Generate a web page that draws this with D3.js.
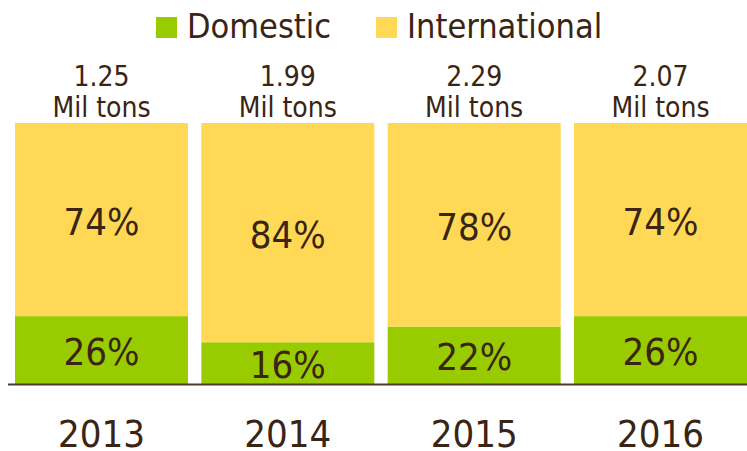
<!DOCTYPE html>
<html>
<head>
<meta charset="utf-8">
<script src="https://cdn.jsdelivr.net/npm/d3@7"></script>
<style>
  html, body { margin: 0; padding: 0; background: #fff; }
  svg text { font-family: "DejaVu Sans Condensed", "DejaVu Sans", sans-serif; font-stretch: condensed; fill: #3a2414; }
</style>
</head>
<body>
<svg id="chart"></svg>
<script>
(function() {

const years = ["2013", "2014", "2015", "2016"];
const totals = ["1.25", "1.99", "2.29", "2.07"];
const domestic = [26, 16, 22, 26];
const international = [74, 84, 78, 74];
const seriesNames = ["Domestic", "International"];
const colors = ["#99cc00", "#ffd955"];

const W = 747, H = 451;
const svg = d3.select("#chart").attr("width", W).attr("height", H);

const x = d3.scaleBand()
    .domain(years)
    .range([15, 747])
    .paddingInner(0.0716)
    .paddingOuter(0);

const y = d3.scaleLinear()
    .domain([0, 100])
    .range([384, 123]);

const rows = years.map((yr, i) => ({ year: yr, total: totals[i], Domestic: domestic[i], International: international[i] }));
const stacked = d3.stack().keys(seriesNames)(rows);

// bars
const layers = svg.append("g").selectAll("g")
    .data(stacked)
    .join("g")
    .attr("fill", (d, i) => colors[i]);

layers.selectAll("rect")
    .data(d => d)
    .join("rect")
    .attr("x", d => x(d.data.year))
    .attr("width", x.bandwidth())
    .attr("y", d => y(d[1]))
    .attr("height", d => y(d[0]) - y(d[1]));

// percent labels inside segments
layers.selectAll("text")
    .data(d => d.map(v => Object.assign({}, v, { key: d.key })))
    .join("text")
    .attr("text-anchor", "middle")
    .attr("dominant-baseline", "central")
    .attr("font-size", 38)
    .attr("x", d => x(d.data.year) + x.bandwidth() / 2)
    .attr("y", d => (y(d[0]) + y(d[1])) / 2 + 2)
    .text(d => d.data[d.key] + "%");

// baseline
svg.append("line")
    .attr("x1", 8).attr("x2", W)
    .attr("y1", y(0) + 0.5).attr("y2", y(0) + 0.5)
    .attr("stroke", "#4a3a30")
    .attr("stroke-width", 2);

// x axis labels (years)
const xAxis = svg.append("g")
    .attr("transform", `translate(0,${y(0)})`)
    .call(d3.axisBottom(x).tickSize(0).tickPadding(36));
xAxis.select(".domain").remove();
xAxis.selectAll("text")
    .attr("font-size", 38)
    .attr("fill", "#3a2414");

// totals on top
const tops = svg.append("g").selectAll("text")
    .data(rows)
    .join("text")
    .attr("text-anchor", "middle")
    .attr("font-size", 28)
    .attr("x", d => x(d.year) + x.bandwidth() / 2)
    .attr("y", 86);
tops.append("tspan").text(d => d.total);
tops.append("tspan")
    .attr("x", d => x(d.year) + x.bandwidth() / 2)
    .attr("dy", 31)
    .text("Mil tons");

// legend
const legendX = [156, 376];
const legend = svg.append("g").selectAll("g")
    .data(seriesNames)
    .join("g")
    .attr("transform", (d, i) => `translate(${legendX[i]},17)`);
legend.append("rect")
    .attr("width", 21).attr("height", 21)
    .attr("fill", (d, i) => colors[i]);
legend.append("text")
    .attr("x", 31).attr("y", 21)
    .attr("font-size", 34)
    .text(d => d);

})();
</script>
</body>
</html>
